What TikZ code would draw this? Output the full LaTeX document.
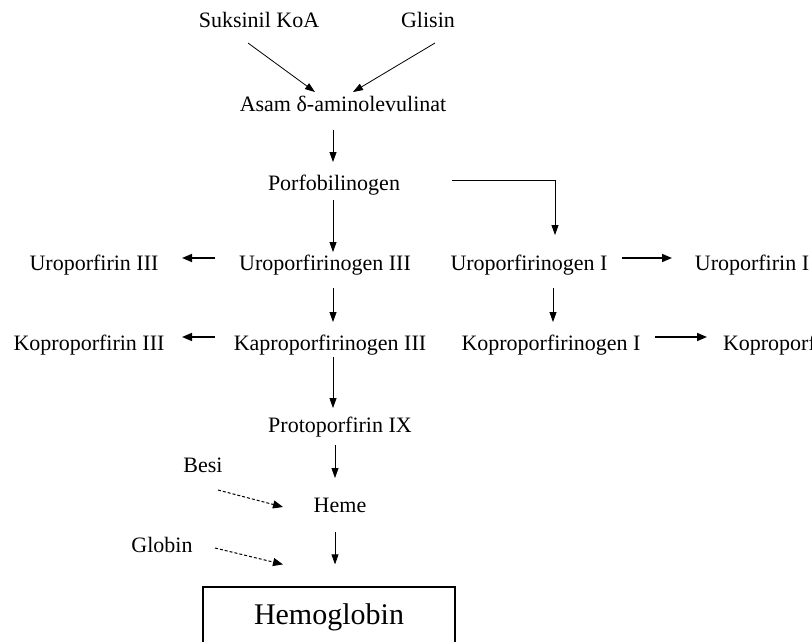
\documentclass[tikz,border=0pt]{standalone}
\usepackage{fontspec}
\setmainfont{Liberation Serif}
\usetikzlibrary{positioning,arrows.meta}

\begin{document}
\begin{tikzpicture}[
  x=1pt, y=-1pt,
  zat/.style={
    inner sep=0pt,
    outer sep=0pt,
    text height=15pt,
    text depth=5pt,
    font=\fontsize{22}{24}\selectfont
  },
  hasil/.style={
    rectangle,
    draw,
    line width=1.2pt,
    minimum width=252pt,
    minimum height=60pt,
    font=\fontsize{30}{32}\selectfont
  },
  panah/.style={-{Triangle[length=10pt,width=7pt]}, line width=0.8pt},
  panahtebal/.style={-{Triangle[length=10pt,width=8pt]}, line width=1.6pt},
  panahputus/.style={-{Triangle[length=10pt,width=8pt]}, line width=1pt, densely dashed}]
  \useasboundingbox[fill=white] (0,0) rectangle (812,641);
  \clip (0,0) rectangle (812,641);
  % bahan awal
  \node[zat] (suksinil) at (259,22) {Suksinil KoA};
  \node[zat] (glisin) at (428,22) {Glisin};
  \node[zat] (ala) at (343,106) {Asam δ-aminolevulinat};
  \node[zat] (pbg) at (334,185) {Porfobilinogen};
  % uroporfirinogen
  \node[zat] (urogen3) at (325,265) {Uroporfirinogen III};
  \node[zat] (uro3) at (94,265) {Uroporfirin III};
  \node[zat] (urogen1) at (529,265) {Uroporfirinogen I};
  \node[zat] (uro1) at (752,265) {Uroporfirin I};
  % koproporfirinogen
  \node[zat] (kopgen3) at (330,345) {Kaproporfirinogen III};
  \node[zat] (kop3) at (89,345) {Koproporfirin III};
  \node[zat] (kopgen1) at (551,345) {Koproporfirinogen I};
  \node[zat, anchor=west] (kop1) at (723,345) {Koproporfirin I};
  % heme
  \node[zat] (proto) at (340,427) {Protoporfirin IX};
  \node[zat] (heme) at (340,507) {Heme};
  \node[zat] (besi) at (203,467) {Besi};
  \node[zat] (globin) at (162,547) {Globin};
  \node[hasil] (hb) at (329,617) {Hemoglobin};

  \draw[panah] ([xshift=-11pt,yshift=-21pt]suksinil.center) -- ([xshift=-28pt,yshift=14pt]ala.center);
  \draw[panah] ([xshift=7pt,yshift=-21pt]glisin.center) -- ([xshift=10pt,yshift=14pt]ala.center);
  \draw[panah] ([xshift=-10pt,yshift=-24pt]ala.center) -- ([xshift=-1pt,yshift=23pt]pbg.center);
  \draw[panah] ([xshift=118pt,yshift=5pt]pbg.center) -| ([xshift=26pt,yshift=30pt]urogen1.center);
  \draw[panah] ([xshift=-1pt,yshift=-15pt]pbg.center) -- ([xshift=8pt,yshift=13pt]urogen3.center);
  \draw[panahtebal] ([xshift=-110pt,yshift=7pt]urogen3.center) -- ([xshift=88pt,yshift=7pt]uro3.center);
  \draw[panahtebal] ([xshift=93pt,yshift=7pt]urogen1.center) -- ([xshift=-80pt,yshift=7pt]uro1.center);
  \draw[panah] ([xshift=8pt,yshift=-23pt]urogen3.center) -- ([xshift=3pt,yshift=23pt]kopgen3.center);
  \draw[panah] ([xshift=24pt,yshift=-23pt]urogen1.center) -- ([xshift=2pt,yshift=23pt]kopgen1.center);
  \draw[panahtebal] ([xshift=-115pt,yshift=8pt]kopgen3.center) -- ([xshift=93pt,yshift=8pt]kop3.center);
  \draw[panahtebal] ([xshift=104pt,yshift=8pt]kopgen1.center) -- ([xshift=-16pt,yshift=8pt]kop1.west);
  \draw[panah] ([xshift=3pt,yshift=-12pt]kopgen3.center) -- ([xshift=-7pt,yshift=19pt]proto.center);
  \draw[panah] ([xshift=-5pt,yshift=-18pt]proto.center) -- ([xshift=-5pt,yshift=29pt]heme.center);
  \draw[panahputus] ([xshift=15pt,yshift=-23pt]besi.center) -- ([xshift=-57pt]heme.center);
  \draw[panah] ([xshift=-5pt,yshift=-25pt]heme.center) -- ([xshift=6pt,yshift=22pt]hb.north);
  \draw[panahputus] ([xshift=53pt,yshift=-1pt]globin.center) -- ([xshift=-46pt,yshift=22pt]hb.north);
\end{tikzpicture}
\end{document}
